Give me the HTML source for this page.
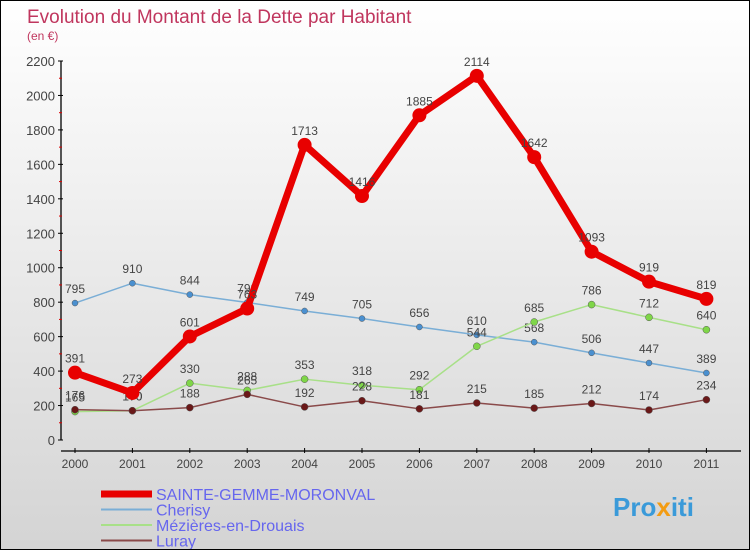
<!DOCTYPE html>
<html><head><meta charset="utf-8"><style>
body{margin:0}
#c{width:748px;height:548px;border:1px solid #000;background:linear-gradient(#fff,#d4d4d4);position:relative;font-family:"Liberation Sans",sans-serif;overflow:hidden}
</style></head><body>
<div id="c">
<svg id="s" width="748" height="548">
<text x="26" y="22" font-size="19" fill="#c0365e">Evolution du Montant de la Dette par Habitant</text>
<text x="26" y="39" font-size="12" fill="#c0365e">(en €)</text>
<text x="612" y="515" font-size="26" font-weight="bold" fill="#3a9ad9">Pro<tspan fill="#f39c12">x</tspan>iti</text>
</svg>
</div>
<script>
const years=["2000","2001","2002","2003","2004","2005","2006","2007","2008","2009","2010","2011"];
const yTicks=[0,200,400,600,800,1000,1200,1400,1600,1800,2000,2200];
const sgm=[391,273,601,763,1713,1416,1885,2114,1642,1093,919,819];
const cherisy=[795,910,844,798,749,705,656,610,568,506,447,389];
const mezieres=[165,170,330,288,353,318,292,544,685,786,712,640];
const luray=[176,170,188,265,192,228,181,215,185,212,174,234];
const NS="http://www.w3.org/2000/svg",svg=document.getElementById('s');
function X(i){return 74+i*57.4;}
function Y(v){return 439-v*(379/2200);}
function el(t,a,p){const e=document.createElementNS(NS,t);for(const k in a)e.setAttribute(k,a[k]);(p||svg).appendChild(e);return e;}
el('line',{x1:60,y1:Y(0),x2:60,y2:Y(2200),stroke:'#000','stroke-width':1.3});
el('line',{x1:60,y1:450,x2:740,y2:450,stroke:'#000','stroke-width':1.3});
yTicks.forEach((v,i)=>{
 el('line',{x1:57,y1:Y(v),x2:62,y2:Y(v),stroke:'#000'});
 if(i<yTicks.length-1)el('line',{x1:58,y1:Y(v+100),x2:61,y2:Y(v+100),stroke:'#d00'});
 const t=el('text',{x:54,y:Y(v)+5,'font-size':13,fill:'#444','text-anchor':'end'});
 
 
 t.textContent=v;
});
years.forEach((y,i)=>{
 el('line',{x1:X(i),y1:447,x2:X(i),y2:452,stroke:'#000'});
 const t=el('text',{x:X(i),y:467,'font-size':12,fill:'#444','text-anchor':'middle'});
 
 
 t.textContent=y;
});
function series(data,color,w,r,fill,name){
 const g=el('g',{});
 
 
 el('polyline',{points:data.map((v,i)=>X(i)+','+Y(v)).join(' '),fill:'none',stroke:color,'stroke-width':w,'stroke-linejoin':'round'},g);
 data.forEach((v,i)=>{
  const c=el('circle',{cx:X(i),cy:Y(v),r:r,fill:fill,stroke:'#555','stroke-width':w>4?0:0.5},g);
  
  
  const t=el('text',{x:X(i),y:Y(v)-10,'font-size':12,fill:'#444','text-anchor':'middle'},g);
  
  
  t.textContent=v;
 });
}
series(cherisy,'#7aaed6',1.5,3,'#4a90d0','cherisy-series');
series(mezieres,'#a8e088',1.5,3.5,'#7fd648','mezieres-series');
series(luray,'#8a4a4a',1.5,3.5,'#6a1818','luray-series');
series(sgm,'#e80000',7,7,'#e80000','sainte-gemme-series');
const leg=[["SAINTE-GEMME-MORONVAL",'#e80000',7],["Cherisy",'#7aaed6',2],["Mézières-en-Drouais",'#a8e088',2],["Luray",'#8a4a4a',2]];
leg.forEach((l,i)=>{
 const g=el('g',{});
 
 
 const y=493+i*15.5;
 el('line',{x1:100,y1:y,x2:151,y2:y,stroke:l[1],'stroke-width':l[2]},g);
 const t=el('text',{x:155,y:y+6,'font-size':16,fill:'#6666ee'},g);
 t.textContent=l[0];
});
</script>
</body></html>
